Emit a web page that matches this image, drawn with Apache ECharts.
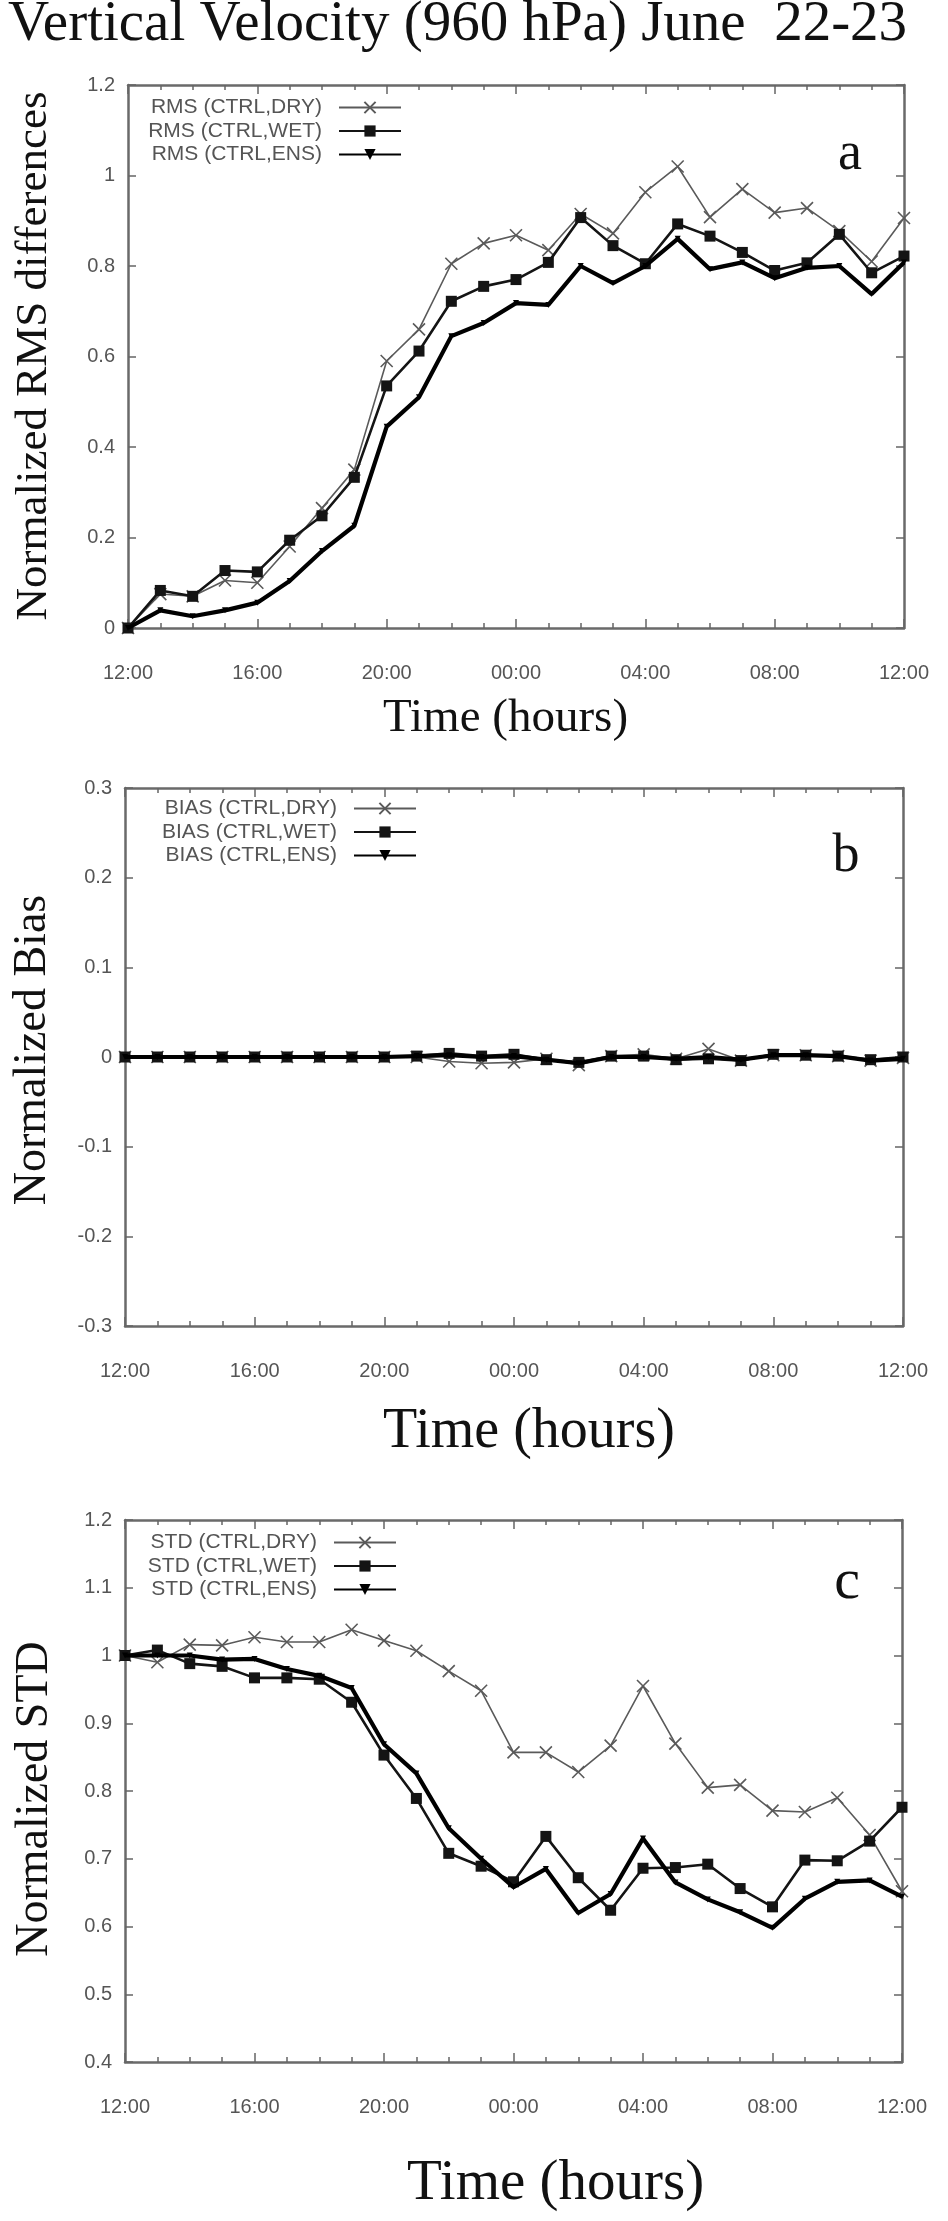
<!DOCTYPE html>
<html>
<head>
<meta charset="utf-8">
<script src="https://cdn.jsdelivr.net/npm/echarts@6/dist/echarts.min.js"></script>
<style>
  html, body { margin: 0; padding: 0; background: #fff; }
  #chart { width: 948px; height: 2221px; }
</style>
</head>
<body>
<div id="chart"></div>
<script>
// hours after 12:00 on June 22
const hours = [0, 1, 2, 3, 4, 5, 6, 7, 8, 9, 10, 11, 12, 13, 14, 15, 16, 17, 18, 19, 20, 21, 22, 23, 24];
const xTickLabels = ['12:00', '16:00', '20:00', '00:00', '04:00', '08:00', '12:00'];

// panel a - normalized RMS differences
const rmsNames = ['RMS (CTRL,DRY)', 'RMS (CTRL,WET)', 'RMS (CTRL,ENS)'];
const rmsDry = [0, 0.075, 0.07, 0.105, 0.10, 0.18, 0.265, 0.35, 0.59, 0.66, 0.805, 0.85, 0.868, 0.835, 0.915, 0.872, 0.963, 1.02, 0.908, 0.97, 0.918, 0.928, 0.877, 0.81, 0.906];
const rmsWet = [0, 0.083, 0.07, 0.127, 0.124, 0.194, 0.248, 0.333, 0.535, 0.612, 0.722, 0.755, 0.77, 0.808, 0.907, 0.845, 0.805, 0.893, 0.866, 0.83, 0.79, 0.807, 0.87, 0.785, 0.822];
const rmsEns = [0, 0.039, 0.026, 0.039, 0.056, 0.104, 0.17, 0.226, 0.445, 0.51, 0.645, 0.674, 0.718, 0.714, 0.8, 0.762, 0.8, 0.86, 0.793, 0.808, 0.773, 0.796, 0.8, 0.738, 0.808];

// panel b - normalized bias
const biasNames = ['BIAS (CTRL,DRY)', 'BIAS (CTRL,WET)', 'BIAS (CTRL,ENS)'];
const biasDry = [0, 0, 0, 0, 0, 0, 0, 0, 0, 0, -0.005, -0.007, -0.006, -0.002, -0.009, 0.001, 0.003, -0.002, 0.009, -0.004, 0.002, 0.002, 0.001, -0.004, -0.001];
const biasWet = [0, 0, 0, 0, 0, 0, 0, 0, 0, 0.001, 0.004, 0.001, 0.003, -0.003, -0.006, 0.001, 0.001, -0.003, -0.002, -0.004, 0.003, 0.002, 0.001, -0.003, 0];
const biasEns = [0, 0, 0, 0, 0, 0, 0, 0, 0, 0.001, 0.002, 0, 0.001, -0.003, -0.007, 0, 0, -0.002, 0, -0.003, 0.002, 0.002, 0.001, -0.004, -0.002];

// panel c - normalized STD
const stdNames = ['STD (CTRL,DRY)', 'STD (CTRL,WET)', 'STD (CTRL,ENS)'];
const stdDry = [1.0, 0.99, 1.016, 1.015, 1.027, 1.02, 1.02, 1.038, 1.022, 1.007, 0.977, 0.948, 0.857, 0.857, 0.828, 0.867, 0.955, 0.87, 0.805, 0.809, 0.771, 0.769, 0.79, 0.735, 0.652];
const stdWet = [1.0, 1.008, 0.988, 0.984, 0.967, 0.967, 0.965, 0.931, 0.853, 0.789, 0.708, 0.689, 0.666, 0.733, 0.672, 0.624, 0.686, 0.687, 0.692, 0.656, 0.629, 0.698, 0.697, 0.726, 0.776];
const stdEns = [1.0, 1.0, 1.0, 0.994, 0.995, 0.98, 0.97, 0.952, 0.869, 0.826, 0.745, 0.70, 0.658, 0.685, 0.62, 0.648, 0.73, 0.665, 0.64, 0.621, 0.598, 0.641, 0.666, 0.668, 0.644];

const panels = [
  { grid: { left: 128, top: 85, width: 776, height: 543 }, min: 0, max: 1.2, interval: 0.2,
    names: rmsNames, values: [rmsDry, rmsWet, rmsEns], legendRight: 546, legendTop: 97 },
  { grid: { left: 125, top: 788, width: 778, height: 538 }, min: -0.3, max: 0.3, interval: 0.1,
    names: biasNames, values: [biasDry, biasWet, biasEns], legendRight: 531, legendTop: 798 },
  { grid: { left: 125, top: 1520, width: 777, height: 542 }, min: 0.4, max: 1.2, interval: 0.1,
    names: stdNames, values: [stdDry, stdWet, stdEns], legendRight: 551, legendTop: 1532 }
];

// DRY: thin grey with crosses, WET: black with squares, ENS: thick black
const lineLooks = [
  { symbol: 'path://M0,0L10,10M10,0L0,10', symbolSize: 12, color: '#5a5a5a', width: 1.6, border: 1.6 },
  { symbol: 'rect', symbolSize: 11, color: '#141414', width: 2.6, border: 0 },
  { symbol: 'triangle', symbolSize: 6, color: '#000', width: 4.2, border: 0, rotate: 180 }
];

const texts = [
  { text: 'Vertical Velocity (960 hPa) June  22-23', x: 8, y: 25, size: 57, align: 'left' },
  { text: 'Time (hours)', x: 383, y: 719, size: 47, align: 'left' },
  { text: 'Time (hours)', x: 383, y: 1432, size: 56, align: 'left' },
  { text: 'Time (hours)', x: 407, y: 2184, size: 57, align: 'left' },
  { text: 'Normalized RMS differences', x: 34, y: 356, size: 45, align: 'center', rot: true },
  { text: 'Normalized Bias', x: 33, y: 1050, size: 46, align: 'center', rot: true },
  { text: 'Normalized STD', x: 35, y: 1799, size: 46, align: 'center', rot: true },
  { text: 'a', x: 850, y: 155, size: 54, align: 'center' },
  { text: 'b', x: 846, y: 857, size: 54, align: 'center' },
  { text: 'c', x: 847, y: 1583, size: 58, align: 'center' }
];

const frame = { show: true, onZero: false, lineStyle: { color: '#6a6a6a', width: 2.5 } };
const tickLabel = { fontFamily: 'Liberation Sans', fontSize: 20, color: '#555' };

const grids = [];
const xAxes = [];
const yAxes = [];
const series = [];
const legends = [];

panels.forEach((p, gi) => {
  grids.push(Object.assign({ outerBoundsMode: 'none', containLabel: false }, p.grid));

  ['bottom', 'top'].forEach(pos => {
    xAxes.push({
      type: 'value', gridIndex: gi, position: pos, min: 0, max: 24, interval: 4,
      axisLine: frame,
      axisTick: { show: true, inside: true, length: 9, lineStyle: { color: '#666', width: 1.5 } },
      minorTick: { show: true, splitNumber: 4, length: 5, lineStyle: { color: '#666', width: 1.5 } },
      splitLine: { show: false },
      axisLabel: pos === 'bottom'
        ? Object.assign({ margin: 35, formatter: v => xTickLabels[Math.round(v / 4)] }, tickLabel)
        : { show: false }
    });
  });

  ['left', 'right'].forEach(pos => {
    yAxes.push({
      type: 'value', gridIndex: gi, position: pos, min: p.min, max: p.max, interval: p.interval,
      axisLine: frame,
      axisTick: { show: true, inside: true, length: 8, lineStyle: { color: '#666', width: 1.5 } },
      splitLine: { show: false },
      axisLabel: pos === 'left' ? Object.assign({ margin: 13 }, tickLabel) : { show: false }
    });
  });

  p.values.forEach((vals, si) => {
    const look = lineLooks[si];
    series.push({
      name: p.names[si],
      type: 'line',
      xAxisIndex: gi * 2,
      yAxisIndex: gi * 2,
      data: hours.map((h, i) => [h, vals[i]]),
      symbol: look.symbol,
      symbolSize: look.symbolSize,
      symbolRotate: look.rotate || 0,
      showAllSymbol: true,
      lineStyle: { color: look.color, width: look.width },
      itemStyle: { color: look.color, borderColor: look.color, borderWidth: look.border },
      emphasis: { disabled: true },
      z: 2 + si
    });
  });

  legends.push({
    data: p.names,
    orient: 'vertical',
    align: 'right',
    right: p.legendRight,
    top: p.legendTop,
    padding: 0,
    itemWidth: 62,
    itemHeight: 14,
    itemGap: 2.5,
    selectedMode: false,
    textStyle: { fontFamily: 'Liberation Sans', fontSize: 21, color: '#555', lineHeight: 20, padding: [0, 12, 0, 0] }
  });
});

const graphics = texts.map(t => ({
  type: 'text',
  x: t.x,
  y: t.y,
  rotation: t.rot ? Math.PI / 2 : 0,
  silent: true,
  style: {
    text: t.text,
    fontFamily: 'Liberation Serif',
    fontSize: t.size,
    fill: '#111',
    align: t.align,
    verticalAlign: 'middle'
  }
}));

const chart = echarts.init(document.getElementById('chart'));
chart.setOption({
  animation: false,
  backgroundColor: '#fff',
  grid: grids,
  xAxis: xAxes,
  yAxis: yAxes,
  legend: legends,
  series: series,
  graphic: graphics
});
</script>
</body>
</html>
